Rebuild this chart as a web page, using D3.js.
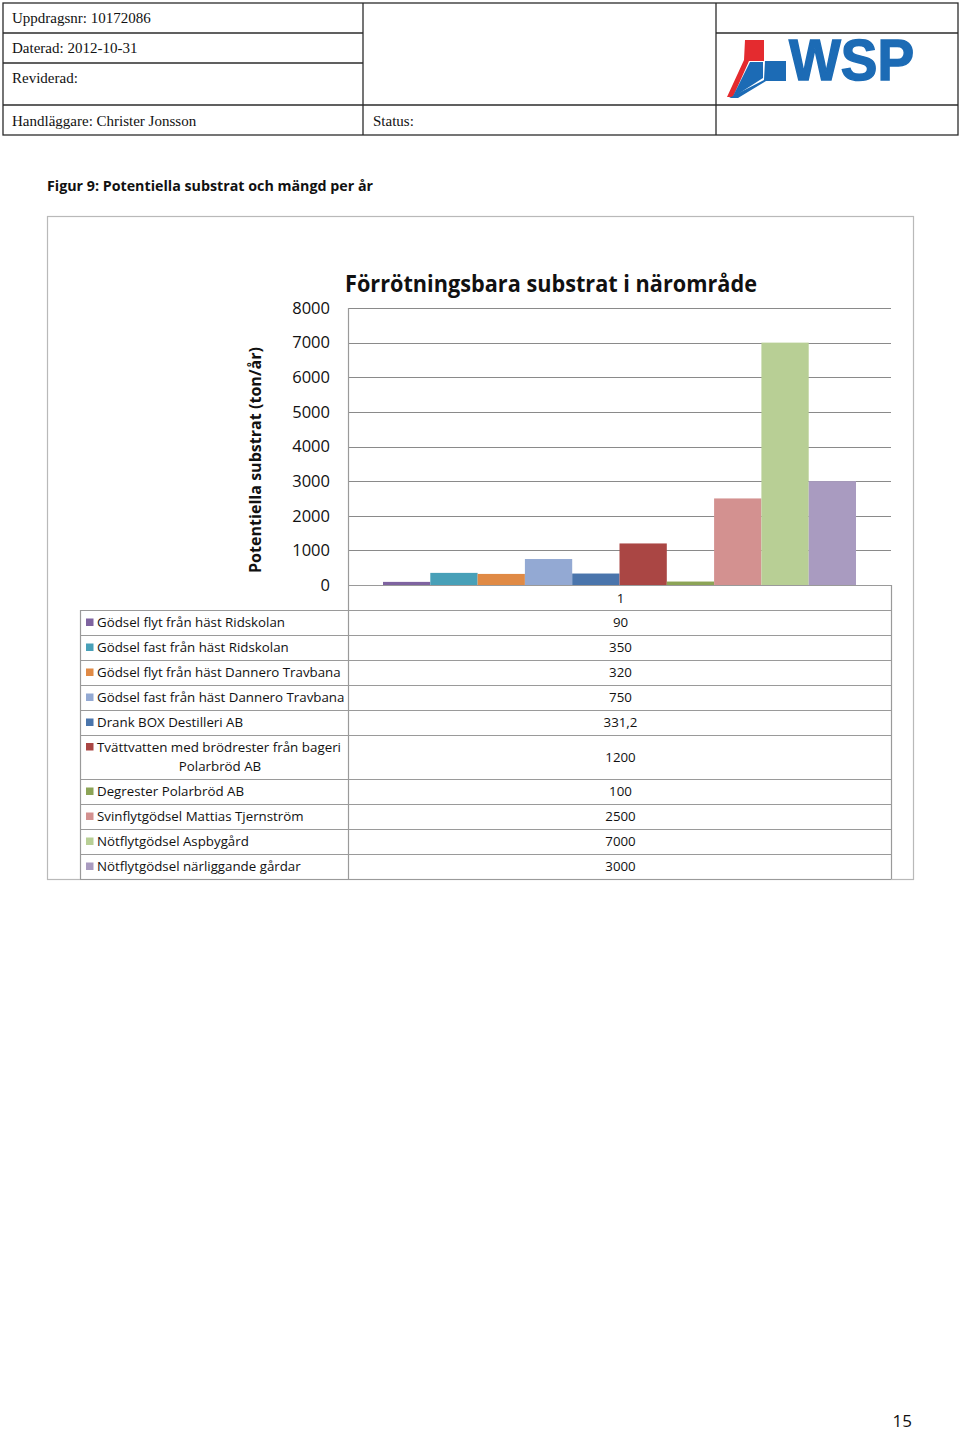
<!DOCTYPE html>
<html>
<head>
<meta charset="utf-8">
<script src="https://cdn.jsdelivr.net/npm/d3@7"></script>
<style>
  html, body { margin: 0; padding: 0; background: #fff; }
  svg { display: block; }
  .serif { font-family: "Liberation Serif", "DejaVu Serif", serif; }
  .sans { font-family: "Open Sans", "Liberation Sans", sans-serif; }
</style>
</head>
<body>
<script>
// ---------- DATA ----------
const seriesNames = [
  "Gödsel flyt från häst Ridskolan",
  "Gödsel fast från häst Ridskolan",
  "Gödsel flyt från häst Dannero Travbana",
  "Gödsel fast från häst Dannero Travbana",
  "Drank BOX Destilleri AB",
  "Tvättvatten med brödrester från bageri Polarbröd AB",
  "Degrester Polarbröd AB",
  "Svinflytgödsel Mattias Tjernström",
  "Nötflytgödsel Aspbygård",
  "Nötflytgödsel närliggande gårdar"
];
const seriesValues = [90, 350, 320, 750, 331.2, 1200, 100, 2500, 7000, 3000];
const valueLabels = ["90", "350", "320", "750", "331,2", "1200", "100", "2500", "7000", "3000"];
const seriesColors = ["#7E63A0", "#48A0B8", "#E08A45", "#93A9D3", "#4A75AC",
                      "#AA4644", "#8CA456", "#D39190", "#B8CF95", "#A99BC0"];
const categories = ["1"];
const yTicks = [0, 1000, 2000, 3000, 4000, 5000, 6000, 7000, 8000];
const headerLeft = ["Uppdragsnr: 10172086", "Daterad: 2012-10-31", "Reviderad:", "Handläggare: Christer Jonsson"];
const headerStatus = "Status:";
const chartTitle = "Förrötningsbara substrat i närområde";
const yTitle = "Potentiella substrat (ton/år)";
const caption = "Figur 9: Potentiella substrat och mängd per år";
const pageNumber = "15";

// ---------- SETUP ----------
const W = 960, H = 1433;
const svg = d3.select("body").append("svg").attr("width", W).attr("height", H);

// ---------- HEADER TABLE ----------
const hdr = svg.append("g").attr("stroke", "#2b2b2b").attr("stroke-width", 1.3).attr("fill", "none");
hdr.append("rect").attr("x", 3).attr("y", 3).attr("width", 955).attr("height", 132);
[[3, 363, 33], [3, 363, 63], [3, 958, 105], [716, 958, 33]].forEach(([x1, x2, y]) =>
  hdr.append("line").attr("x1", x1).attr("x2", x2).attr("y1", y).attr("y2", y));
[363, 716].forEach(x => hdr.append("line").attr("x1", x).attr("x2", x).attr("y1", 3).attr("y2", 135));

const hdrY = [23, 53, 83, 126];
headerLeft.forEach((t, i) => svg.append("text").attr("class", "serif")
  .attr("x", 12).attr("y", hdrY[i]).attr("font-size", 15).attr("fill", "#111").text(t));
svg.append("text").attr("class", "serif").attr("x", 373).attr("y", 126)
  .attr("font-size", 15).attr("fill", "#111").text(headerStatus);

// WSP logo
const logo = svg.append("g");
logo.append("polygon").attr("fill", "#E42B2F")
  .attr("points", "745,40 764,40 764,61 749,61 733,97 727,97 744,60");
logo.append("polygon").attr("fill", "#E42B2F")
  .attr("points", "745,62 748,62 731,97 728,97");
logo.append("polygon").attr("fill", "#1C6BB5")
  .attr("points", "765,61 786,61 786,81 766,81 738,98 729,98 764,80");
logo.append("polygon").attr("fill", "#1C6BB5")
  .attr("points", "750,62 763,62 763,78 735,96 733,96");
logo.append("text").attr("x", 789).attr("y", 80)
  .attr("font-family", "Liberation Sans, Arial, sans-serif").attr("font-weight", "bold")
  .attr("font-size", 58).attr("fill", "#1C6BB5").attr("stroke", "#1C6BB5").attr("stroke-width", 1.5)
  .attr("textLength", 125).attr("lengthAdjust", "spacingAndGlyphs").text("WSP");

// ---------- CAPTION ----------
svg.append("text").attr("class", "sans").attr("x", 47).attr("y", 191)
  .attr("font-size", 14.5).attr("font-weight", "bold").attr("fill", "#111")
  .attr("textLength", 326).attr("lengthAdjust", "spacingAndGlyphs").text(caption);

// ---------- CHART FRAME ----------
svg.append("rect").attr("x", 47.5).attr("y", 216.5).attr("width", 866).attr("height", 663)
  .attr("fill", "none").attr("stroke", "#b9b9b9").attr("stroke-width", 1.2);

const plot = { left: 348, right: 891, top: 308, bottom: 585 };
const y = d3.scaleLinear().domain([0, 8000]).range([plot.bottom, plot.top]);
const x0 = d3.scaleBand().domain(categories).range([plot.left, plot.right]).paddingOuter(0.074).paddingInner(0);
const x1 = d3.scaleBand().domain(seriesNames).range([0, x0.bandwidth()]).padding(0);

// gridlines
svg.append("g").selectAll("line").data(yTicks).join("line")
  .attr("x1", plot.left).attr("x2", plot.right)
  .attr("y1", d => Math.round(y(d)) + 0.5).attr("y2", d => Math.round(y(d)) + 0.5)
  .attr("stroke", "#8a8a8a").attr("stroke-width", 1.2);

// y axis
const yAxis = svg.append("g").attr("transform", `translate(${plot.left},0)`)
  .call(d3.axisLeft(y).tickValues(yTicks).tickSize(0).tickPadding(18).tickFormat(d3.format("d")));
yAxis.select(".domain").remove();
yAxis.selectAll("text").attr("font-family", "Open Sans, Liberation Sans, sans-serif")
  .attr("font-size", 16.5).attr("fill", "#111");

// y axis title
svg.append("text").attr("class", "sans")
  .attr("transform", `translate(261,460) rotate(-90)`)
  .attr("text-anchor", "middle").attr("font-size", 16).attr("font-weight", "bold").attr("fill", "#111")
  .attr("textLength", 226).attr("lengthAdjust", "spacingAndGlyphs").text(yTitle);

// chart title
svg.append("text").attr("class", "sans").attr("x", 345).attr("y", 292)
  .attr("font-size", 23).attr("font-weight", "bold").attr("fill", "#111")
  .attr("textLength", 412).attr("lengthAdjust", "spacingAndGlyphs").text(chartTitle);

// bars
const barData = seriesNames.map((n, i) => ({ name: n, value: seriesValues[i], color: seriesColors[i], cat: categories[0] }));
svg.append("g").selectAll("rect").data(barData).join("rect")
  .attr("x", d => x0(d.cat) + x1(d.name))
  .attr("width", x1.bandwidth())
  .attr("y", d => y(d.value))
  .attr("height", d => y(0) - y(d.value))
  .attr("fill", d => d.color);

// ---------- DATA TABLE ----------
const tbl = { left: 80, mid: plot.left, right: plot.right };
const rowTops = [610, 635, 660, 685, 710, 735, 779, 804, 829, 854];
const tableBottom = 879;
const lines = svg.append("g").attr("stroke", "#9a9a9a").attr("stroke-width", 1.2);
lines.append("line").attr("x1", tbl.mid).attr("x2", tbl.right).attr("y1", plot.bottom + 0.5).attr("y2", plot.bottom + 0.5);
rowTops.concat([tableBottom]).forEach(t => lines.append("line")
  .attr("x1", tbl.left).attr("x2", tbl.right).attr("y1", t + 0.5).attr("y2", t + 0.5));
lines.append("line").attr("x1", tbl.left + 0.5).attr("x2", tbl.left + 0.5).attr("y1", rowTops[0]).attr("y2", tableBottom);
lines.append("line").attr("x1", tbl.mid + 0.5).attr("x2", tbl.mid + 0.5).attr("y1", plot.top).attr("y2", tableBottom);
lines.append("line").attr("x1", tbl.right + 0.5).attr("x2", tbl.right + 0.5).attr("y1", plot.bottom).attr("y2", tableBottom);

const fs = 13.3;
svg.append("text").attr("class", "sans").attr("x", x0(categories[0]) + x0.bandwidth() / 2 + 1)
  .attr("y", 603).attr("text-anchor", "middle").attr("font-size", fs).attr("fill", "#111").text(categories[0]);

seriesNames.forEach((n, i) => {
  const top = rowTops[i];
  const bot = i + 1 < rowTops.length ? rowTops[i + 1] : tableBottom;
  const cy = (top + bot) / 2;
  const twoLine = (bot - top) > 30;
  const keyY = twoLine ? top + 12 : cy;
  svg.append("rect").attr("x", 86).attr("y", keyY - 4).attr("width", 7.5).attr("height", 7.5).attr("fill", seriesColors[i]);
  if (twoLine) {
    const words = n.split(" ");
    const l1 = words.slice(0, 5).join(" "), l2 = words.slice(5).join(" ");
    svg.append("text").attr("class", "sans").attr("x", 97).attr("y", top + 17)
      .attr("font-size", fs).attr("fill", "#111").attr("textLength", 244).attr("lengthAdjust", "spacingAndGlyphs").text(l1);
    svg.append("text").attr("class", "sans").attr("x", 220).attr("y", top + 36).attr("text-anchor", "middle")
      .attr("font-size", fs).attr("fill", "#111").text(l2);
  } else {
    svg.append("text").attr("class", "sans").attr("x", 97).attr("y", cy + 4.5)
      .attr("font-size", fs).attr("fill", "#111").text(n);
  }
  svg.append("text").attr("class", "sans").attr("x", (tbl.mid + tbl.right) / 2 + 1).attr("y", cy + 4.5)
    .attr("text-anchor", "middle").attr("font-size", fs).attr("fill", "#111").text(valueLabels[i]);
});

// ---------- PAGE NUMBER ----------
svg.append("text").attr("class", "sans").attr("x", 912).attr("y", 1427).attr("text-anchor", "end")
  .attr("font-size", 17).attr("fill", "#111").text(pageNumber);
</script>
</body>
</html>
